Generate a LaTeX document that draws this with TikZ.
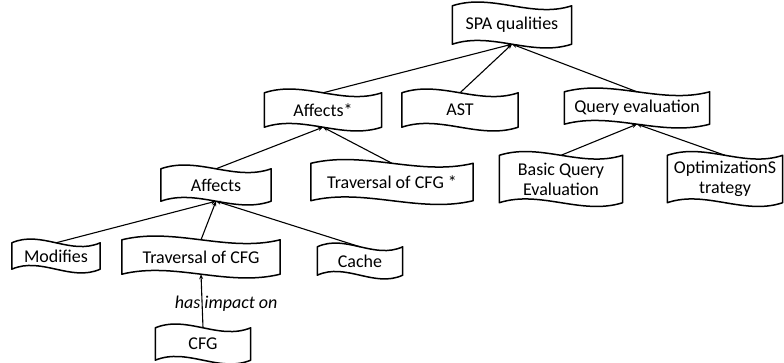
\documentclass[tikz,border=0pt]{standalone}
\usepackage{fontspec}
\setmainfont{Carlito}
\usetikzlibrary{arrows.meta,calc}
\begin{document}
\begin{tikzpicture}[
		x=1pt, y=1pt,
		every node/.style={font=\fontsize{18}{20}\selectfont},
		flagbox/.style={minimum height=#1, inner sep=0pt, align=center},
		arrow/.style={-{Stealth[length=5pt,width=4pt]}, line width=1.1pt},
		outline/.style={line width=1.5pt, line join=round}
		]
		\useasboundingbox (0,0) rectangle (784,362);
		
		% -------- Top --------
		\node[flagbox=38, minimum width=119] (spa) at (512,337) {SPA qualities};
		
		% -------- Second level --------
		\node[flagbox=34, minimum width=117] (affstar) at (323,252) {Affects*};
		\node[flagbox=34, minimum width=116] (ast) at (460,252) {AST};
		\node[flagbox=32, minimum width=145] (qeval) at (637,254) {Query evaluation};
		
		% -------- Third level --------
		\node[flagbox=32, minimum width=110] (affects) at (216,177) {Affects};
		\node[flagbox=37, minimum width=162] (travstar) at (392,180) {Traversal of CFG *};
		\node[flagbox=47, minimum width=123] (basic) at (561,183) {Basic Query\\Evaluation};
		\node[flagbox=47, minimum width=115] (optim) at (725,183) {OptimizationS\\trategy};
		
		% -------- Fourth level --------
		\node[flagbox=26, minimum width=88] (modifies) at (56,106) {Modifies};
		\node[flagbox=34, minimum width=158] (travcfg) at (201,105) {Traversal of CFG};
		\node[flagbox=28, minimum width=85] (cache) at (360,101) {Cache};
		
		% -------- Bottom --------
		\node[flagbox=32, minimum width=95] (cfg) at (203,18) {CFG};
		
		% ---- Wavy outlines ----
		\foreach \n in {spa,affstar,ast,qeval,affects,travstar,basic,optim,modifies,travcfg,cache,cfg}
			\draw[outline] (\n.north west)
				.. controls ($(\n.north west)!0.333!(\n.north east)+(0,13)$) and ($(\n.north west)!0.667!(\n.north east)+(0,-13)$) .. (\n.north east)
				-- (\n.south east)
				.. controls ($(\n.south west)!0.667!(\n.south east)+(0,-13)$) and ($(\n.south west)!0.333!(\n.south east)+(0,13)$) .. (\n.south west)
				-- cycle;
		
		% ---- Into SPA qualities ----
		\draw[arrow] (affstar.north) -- (spa.south);
		\draw[arrow] (ast.north) -- (spa.south);
		\draw[arrow] (qeval.north) -- (spa.south);
		
		% ---- Into Affects* ----
		\draw[arrow] (affects.north) -- (affstar.south);
		\draw[arrow] (travstar.north) -- (affstar.south);
		
		% ---- Into Query evaluation ----
		\draw[arrow] (basic.north) -- (qeval.south);
		\draw[arrow] (optim.north) -- (qeval.south);
		
		% ---- Into Affects ----
		\draw[arrow] (modifies.north) -- (affects.south);
		\draw[arrow] (travcfg.north) -- (affects.south);
		\draw[arrow] (cache.north) -- (affects.south);
		
		% ---- CFG ----
		\draw[arrow] (cfg.north) -- node[pos=0.45, xshift=24pt, font=\fontsize{18}{20}\selectfont\itshape] {has impact on} (travcfg.south);
		
	\end{tikzpicture}
\end{document}
